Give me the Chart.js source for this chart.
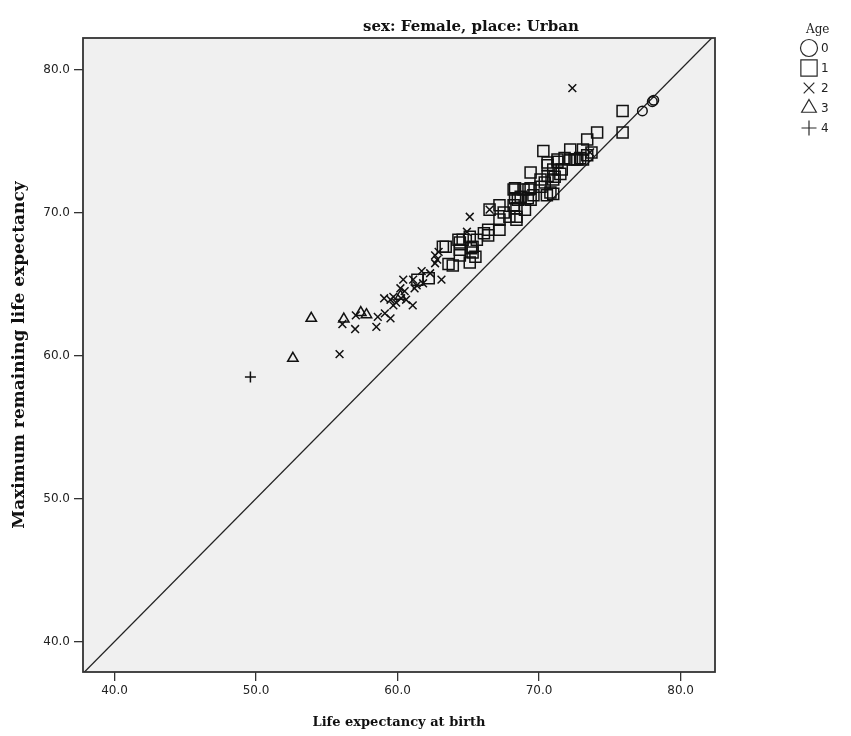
<!DOCTYPE html>
<html>
<head>
<meta charset="utf-8">
<script src="https://cdn.jsdelivr.net/npm/chart.js@4/dist/chart.umd.min.js"></script>
<style>
  html, body { margin: 0; padding: 0; background: #ffffff; }
  #wrap { width: 851px; height: 736px; position: relative; }
</style>
</head>
<body>
<div id="wrap"><canvas id="c" width="851" height="736"></canvas></div>
<script>
// Labels
const panelTitle = 'sex: Female, place: Urban';
const xTitle = 'Life expectancy at birth';
const yTitle = 'Maximum remaining life expectancy';
const legendTitle = 'Age';
const ageGroups = ['0', '1', '2', '3', '4'];

// Axis extents and tick values
const xRange = [37.77, 82.43];
const yRange = [37.87, 82.2];
const tickValues = [40, 50, 60, 70, 80];

// [life expectancy at birth, maximum remaining life expectancy] per age group
const age0 = [[77.3, 77.1], [78.0, 77.75], [78.1, 77.85]];
const age1 = [
  [62.2, 65.4], [61.4, 65.3], [63.2, 67.6], [63.4, 67.6], [63.6, 66.4], [63.9, 66.3],
  [64.3, 68.1], [64.4, 67.9], [64.4, 67.4], [64.4, 67.0], [64.6, 68.1], [65.1, 68.3],
  [65.1, 66.5], [65.2, 67.5], [65.3, 67.6], [65.3, 67.2], [65.5, 66.9], [65.6, 68.1],
  [66.1, 68.55], [66.4, 68.4], [66.4, 68.8], [66.5, 70.2], [67.2, 68.8], [67.2, 69.5],
  [67.2, 70.5], [67.5, 70.0], [67.9, 69.7], [68.2, 71.6], [68.2, 70.5], [68.3, 71.7],
  [68.3, 71.0], [68.4, 70.3], [68.4, 69.7], [68.4, 69.5], [68.5, 70.9], [68.7, 71.1],
  [68.9, 71.6], [69.0, 70.2], [69.2, 71.0], [69.25, 71.6], [69.4, 72.8], [69.4, 71.7],
  [69.4, 70.9], [69.6, 71.2], [70.1, 72.3], [70.1, 71.8], [70.3, 74.3], [70.4, 72.1],
  [70.6, 73.5], [70.6, 73.3], [70.6, 72.55], [70.55, 71.2], [70.8, 71.4], [71.0, 71.3],
  [71.0, 72.3], [71.0, 73.0], [71.1, 72.5], [71.3, 73.7], [71.3, 73.55], [71.5, 72.7],
  [71.6, 73.0], [71.8, 73.8], [72.2, 74.4], [72.2, 73.7], [72.5, 73.7], [72.7, 73.7],
  [72.9, 73.8], [73.1, 74.4], [73.1, 73.7], [73.4, 75.1], [73.4, 74.0], [73.7, 74.2],
  [74.1, 75.6], [75.9, 77.1], [75.9, 75.6]
];
const age2 = [
  [55.9, 60.1], [56.1, 62.2], [57.0, 61.85], [57.05, 62.8], [58.5, 62.0], [58.6, 62.7],
  [59.1, 62.95], [59.5, 62.6], [59.05, 64.0], [59.7, 63.5], [61.07, 63.5], [59.7, 64.1],
  [59.9, 63.7], [59.5, 63.9], [60.25, 64.0], [60.6, 63.9], [60.5, 64.5], [60.2, 64.7],
  [60.4, 65.3], [61.2, 64.7], [61.1, 65.3], [61.35, 64.9], [61.8, 65.05], [61.7, 65.9],
  [62.3, 65.75], [63.1, 65.3], [62.65, 66.45], [62.8, 66.7], [62.65, 67.0], [62.9, 67.25],
  [64.9, 68.65], [65.1, 69.7], [66.5, 70.2], [72.35, 78.7], [73.6, 74.2]
];
const age3 = [[52.6, 59.8], [53.9, 62.6], [56.2, 62.55], [57.4, 63.0], [57.8, 62.85], [60.2, 64.15]];
const age4 = [[49.6, 58.5]];

const INK = '#111111';
const toPoints = arr => arr.map(([x, y]) => ({ x, y }));

// marker look per age group: [pointStyle, radius in plot, radius in legend]
const markerStyles = [
  ['circle', 4.8, 8.5],
  ['rect', 7.8, 11.5],
  ['crossRot', 5.5, 7.5],
  ['triangle', 6, 8.5],
  ['cross', 5.5, 7.5]
];
const seriesData = [age0, age1, age2, age3, age4];

const datasets = seriesData.map((arr, i) => ({
  label: ageGroups[i],
  data: toPoints(arr),
  pointStyle: markerStyles[i][0],
  pointRadius: markerStyles[i][1],
  pointBorderWidth: 1.5,
  pointBorderColor: INK,
  pointBackgroundColor: 'rgba(0,0,0,0)',
  showLine: false
}));

// y = x reference line
datasets.push({
  type: 'line',
  label: 'reference',
  data: xRange.map(v => ({ x: v, y: v })),
  borderColor: '#222222',
  borderWidth: 1.3,
  pointRadius: 0,
  fill: false
});

function drawSymbol(ctx, style, x, y, r) {
  ctx.beginPath();
  if (style === 'circle') {
    ctx.arc(x, y, r, 0, Math.PI * 2);
  } else if (style === 'rect') {
    const s = r * Math.SQRT1_2;
    ctx.rect(x - s, y - s, 2 * s, 2 * s);
  } else if (style === 'crossRot') {
    const d = r * Math.SQRT1_2;
    ctx.moveTo(x - d, y - d); ctx.lineTo(x + d, y + d);
    ctx.moveTo(x + d, y - d); ctx.lineTo(x - d, y + d);
  } else if (style === 'triangle') {
    ctx.moveTo(x, y - r);
    ctx.lineTo(x + r * Math.sin(Math.PI / 3), y + r * 0.5);
    ctx.lineTo(x - r * Math.sin(Math.PI / 3), y + r * 0.5);
    ctx.closePath();
  } else if (style === 'cross') {
    ctx.moveTo(x - r, y); ctx.lineTo(x + r, y);
    ctx.moveTo(x, y - r); ctx.lineTo(x, y + r);
  }
  ctx.stroke();
}

// plot panel background, frame, panel title and age legend
const panelPlugin = {
  id: 'panel',
  beforeDraw(chart) {
    const { ctx, chartArea: a } = chart;
    ctx.save();
    ctx.fillStyle = '#f0f0f0';
    ctx.fillRect(a.left, a.top, a.right - a.left, a.bottom - a.top);
    ctx.restore();
  },
  afterDraw(chart) {
    const { ctx, chartArea: a } = chart;
    ctx.save();
    ctx.strokeStyle = '#333333';
    ctx.lineWidth = 1.8;
    ctx.strokeRect(a.left, a.top, a.right - a.left, a.bottom - a.top);

    ctx.fillStyle = '#111';
    ctx.font = 'bold 15px "DejaVu Serif"';
    ctx.textAlign = 'center';
    ctx.textBaseline = 'alphabetic';
    ctx.fillText(panelTitle, 471, 31);

    ctx.font = '12px "DejaVu Serif"';
    ctx.textAlign = 'left';
    ctx.textBaseline = 'middle';
    ctx.fillStyle = '#222';
    ctx.fillText(legendTitle, 806, 30);

    ctx.font = '12px "DejaVu Sans"';
    ctx.strokeStyle = '#2a2a2a';
    ctx.lineWidth = 1.2;
    ageGroups.forEach((g, i) => {
      const y = 48 + i * 20;
      drawSymbol(ctx, markerStyles[i][0], 809, y, markerStyles[i][2]);
      ctx.fillText(g, 821, y + 1);
    });
    ctx.restore();
  }
};

const tickFont = { family: 'DejaVu Sans', size: 12 };
const xTitleFont = { family: 'DejaVu Serif', size: 13, weight: 'bold' };
const yTitleFont = { family: 'DejaVu Serif', size: 17, weight: 'bold' };

new Chart(document.getElementById('c'), {
  type: 'scatter',
  data: { datasets },
  options: {
    responsive: false,
    animation: false,
    events: [],
    layout: { padding: { left: 0, top: 38, right: 136, bottom: 0 } },
    plugins: { legend: { display: false }, tooltip: { enabled: false }, title: { display: false } },
    scales: {
      x: {
        type: 'linear',
        min: xRange[0],
        max: xRange[1],
        afterFit(s) { s.height = 64; },
        afterBuildTicks(s) { s.ticks = tickValues.map(v => ({ value: v })); },
        ticks: { font: tickFont, color: '#222', padding: 3, callback: v => Number(v).toFixed(1) },
        grid: { drawOnChartArea: false, drawTicks: true, tickLength: 9, color: '#333', lineWidth: 1.3 },
        border: { display: false },
        title: { display: true, text: xTitle, font: xTitleFont, color: '#111', padding: { top: 0, bottom: 6 } }
      },
      y: {
        type: 'linear',
        min: yRange[0],
        max: yRange[1],
        afterFit(s) { s.width = 83; },
        afterBuildTicks(s) { s.ticks = tickValues.map(v => ({ value: v })); },
        ticks: { font: tickFont, color: '#222', padding: 4, callback: v => Number(v).toFixed(1) },
        grid: { drawOnChartArea: false, drawTicks: true, tickLength: 9, color: '#333', lineWidth: 1.3 },
        border: { display: false },
        title: { display: true, text: yTitle, font: yTitleFont, color: '#111', padding: { top: 9, bottom: 0 } }
      }
    }
  },
  plugins: [panelPlugin]
});
</script>
</body>
</html>
